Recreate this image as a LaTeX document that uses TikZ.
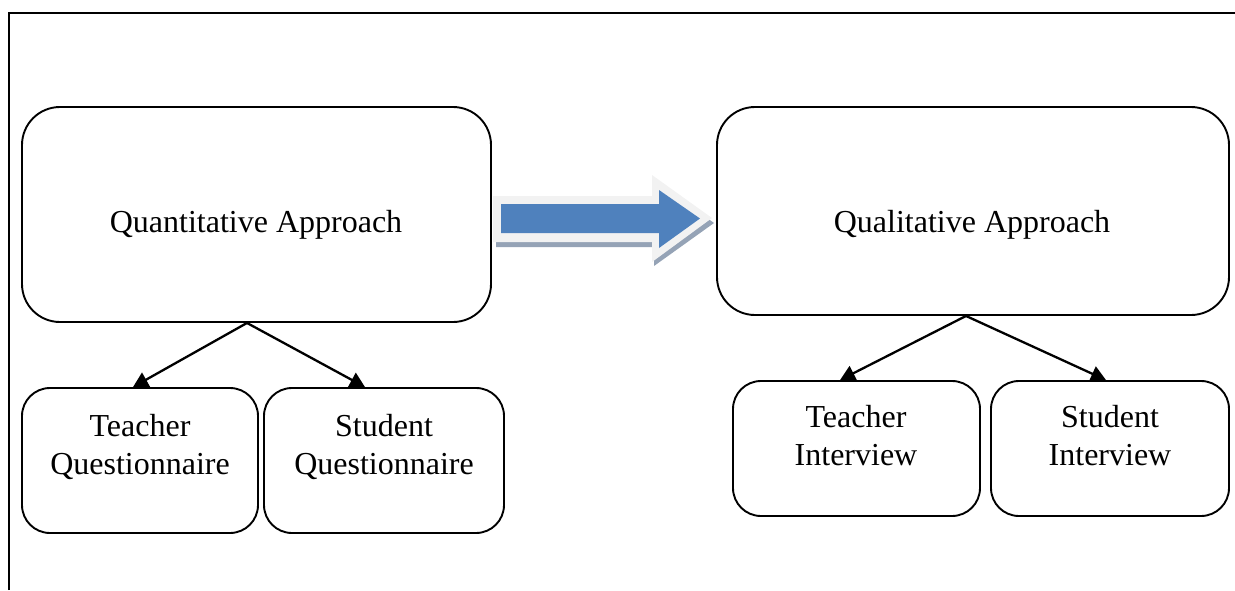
\documentclass[tikz,border=0pt]{standalone}
\usepackage{fontspec}
\setmainfont{Liberation Serif}
\usetikzlibrary{arrows.meta,calc}
\definecolor{blueA}{HTML}{4F81BD}
\definecolor{glowA}{HTML}{F2F2F2}
\definecolor{shadA}{HTML}{95A3B6}
\tikzset{
  bigbox/.style={draw, line width=1.9pt, rounded corners=38pt, inner sep=0pt},
  smallbox/.style={draw, line width=1.9pt, rounded corners=28pt, inner sep=0pt},
  lbl/.style={align=center, font=\fontsize{32}{38}\selectfont, inner sep=0pt},
  conn/.style={line width=2.3pt, -{Triangle[length=15pt,width=16pt]}},
}
\begin{document}
\begin{tikzpicture}[x=1pt,y=-1pt]
\useasboundingbox (0,0) rectangle (1235,590);
% frame
\draw[line width=2.8pt] (9,590) -- (9,13) -- (1236,13);
% boxes
\node[bigbox, minimum width=469pt, minimum height=215pt] (quant) at (256.5,214.5) {};
\node[bigbox, minimum width=512pt, minimum height=208pt] (qual) at (973,211) {};
\node[smallbox, minimum width=236pt, minimum height=145pt] (tq) at (140,460.5) {};
\node[smallbox, minimum width=240pt, minimum height=145pt] (sq) at (384,460.5) {};
\node[smallbox, minimum width=247pt, minimum height=135pt] (ti) at (856.5,448.5) {};
\node[smallbox, minimum width=238pt, minimum height=135pt] (si) at (1110,448.5) {};
% labels
\node[lbl] (quantt) at (256,224.5) {Quantitative Approach};
\node[lbl] (qualt) at (972,224.5) {Qualitative Approach};
\node[lbl] (tqt) at (140,447) {Teacher\\Questionnaire};
\node[lbl] (sqt) at (384,447) {Student\\Questionnaire};
\node[lbl] (tit) at (856,436) {Teacher\\Interview};
\node[lbl] (sit) at (1110,436) {Student\\Interview};
% connectors
\coordinate (qsrc) at ($(quant.south)+(-9.5,0)$);
\coordinate (lsrc) at ($(qual.south)+(-7,0)$);
\draw[conn] (qsrc) -- ($(tq.north)+(-7,0)$);
\draw[conn] (qsrc) -- ($(sq.north)+(-19,0)$);
\draw[conn] (lsrc) -- ($(ti.north)+(-16.5,0)$);
\draw[conn] (lsrc) -- ($(si.north)+(-4,0)$);
% block arrow
\fill[shadA] (496,201) -- (654,201) -- (654,180) -- (714,223) -- (654,266) -- (654,247) -- (496,247) -- cycle;
\fill[glowA] (493,196) -- (652,196) -- (652,175) -- (712,218) -- (652,262) -- (652,242) -- (493,242) -- cycle;
\fill[blueA] (501,204) -- (659,204) -- (659,190) -- (700,218.5) -- (659,248) -- (659,233) -- (501,233) -- cycle;
\end{tikzpicture}
\end{document}
